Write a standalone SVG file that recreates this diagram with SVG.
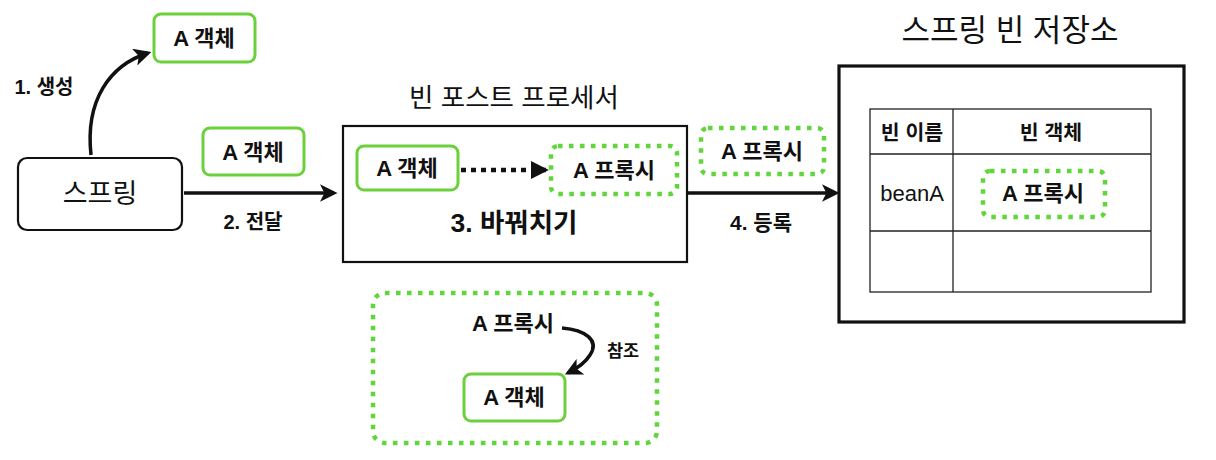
<svg xmlns="http://www.w3.org/2000/svg" width="1216" height="460" viewBox="0 0 1216 460">
<style>
text{font-family:"Liberation Sans","Noto Sans CJK KR",sans-serif;fill:#111;text-anchor:middle;dominant-baseline:central}
.b{font-weight:bold}
.g{fill:#fff;stroke:#6ad13c;stroke-width:3}
.gd{fill:#fff;stroke:#5fd63a;stroke-width:4.5;stroke-dasharray:4.5 6.5}
.box{fill:#fff;stroke:#111;stroke-width:2.2}
.ln{fill:none;stroke:#111;stroke-width:3.5}
.tl{fill:none;stroke:#222;stroke-width:1.3}
</style>
<defs>
<marker id="ah" viewBox="0 0 10 10" refX="8" refY="5" markerWidth="5" markerHeight="5" orient="auto" markerUnits="strokeWidth">
<path d="M0,0 L10,5 L0,10 L2.5,5 Z" fill="#111"/>
</marker>
<marker id="ah2" viewBox="0 0 10 10" refX="9" refY="5" markerWidth="4" markerHeight="4" orient="auto" markerUnits="strokeWidth">
<path d="M0,0 L10,5 L0,10 Z" fill="#111"/>
</marker>
</defs>

<g id="a-obj-created">
<rect class="g" x="154" y="14" width="101" height="48" rx="7"/>
<text class="b" x="204" y="38" font-size="22">A 객체</text>
</g>
<text class="b" x="44" y="87" font-size="20">1. 생성</text>

<g id="spring">
<rect class="box" x="18" y="158" width="164" height="72" rx="9"/>
<text x="100" y="194" font-size="27">스프링</text>
</g>

<g id="a-obj-passed">
<rect class="g" x="203" y="128" width="101" height="47" rx="7"/>
<text class="b" x="253" y="152" font-size="22">A 객체</text>
</g>
<text class="b" x="253" y="222" font-size="20">2. 전달</text>

<text x="514" y="98" font-size="26.5">빈 포스트 프로세서</text>
<g id="bean-post-processor">
<rect class="box" x="343" y="126" width="344" height="136"/>
<rect class="g" x="357" y="146" width="101" height="44" rx="7"/>
<text class="b" x="407" y="168" font-size="22">A 객체</text>
<rect class="gd" x="551" y="146" width="126" height="48" rx="7"/>
<text class="b" x="614" y="170" font-size="22">A 프록시</text>
<text class="b" x="514" y="223" font-size="26.5">3. 바꿔치기</text>
</g>

<g id="a-proxy-registered">
<rect class="gd" x="701" y="128" width="123" height="46" rx="7"/>
<text class="b" x="762" y="151" font-size="22">A 프록시</text>
</g>
<text class="b" x="761" y="222" font-size="21">4. 등록</text>

<text x="1010" y="30" font-size="31">스프링 빈 저장소</text>
<g id="bean-storage">
<rect fill="#fff" stroke="#111" stroke-width="3.2" x="839" y="66" width="345" height="256"/>
<rect class="tl" x="870" y="109" width="281" height="183"/>
<line class="tl" x1="953" y1="109" x2="953" y2="292"/>
<line class="tl" x1="870" y1="154" x2="1151" y2="154"/>
<line class="tl" x1="870" y1="231" x2="1151" y2="231"/>
<text class="b" x="912" y="132" font-size="20.5">빈 이름</text>
<text class="b" x="1051" y="132" font-size="20.5">빈 객체</text>
<text x="912" y="193" font-size="22">beanA</text>
<rect class="gd" x="983" y="171" width="122" height="46" rx="7"/>
<text class="b" x="1043" y="193" font-size="22">A 프록시</text>
</g>

<g id="proxy-detail">
<rect class="gd" x="373" y="293" width="284" height="150" rx="12"/>
<text class="b" x="513" y="323" font-size="22">A 프록시</text>
<text class="b" x="623" y="351" font-size="17.5">참조</text>
<rect class="g" x="464" y="374" width="101" height="47" rx="7"/>
<text class="b" x="514" y="397" font-size="22">A 객체</text>
</g>

<g id="connectors">
<path class="ln" d="M91,155 C85,100 110,65 148,53" marker-end="url(#ah)"/>
<path class="ln" d="M184,193 L334,193" marker-end="url(#ah)"/>
<path class="ln" d="M688,193 L836,193" marker-end="url(#ah)"/>
<path fill="none" stroke="#111" stroke-width="4.5" stroke-dasharray="5 5" d="M461,170 L547,170" marker-end="url(#ah2)"/>
<path class="ln" d="M562,328 C585,330 600,340 590,355 C585,363 578,368 568,373" marker-end="url(#ah)"/>
</g>
</svg>
